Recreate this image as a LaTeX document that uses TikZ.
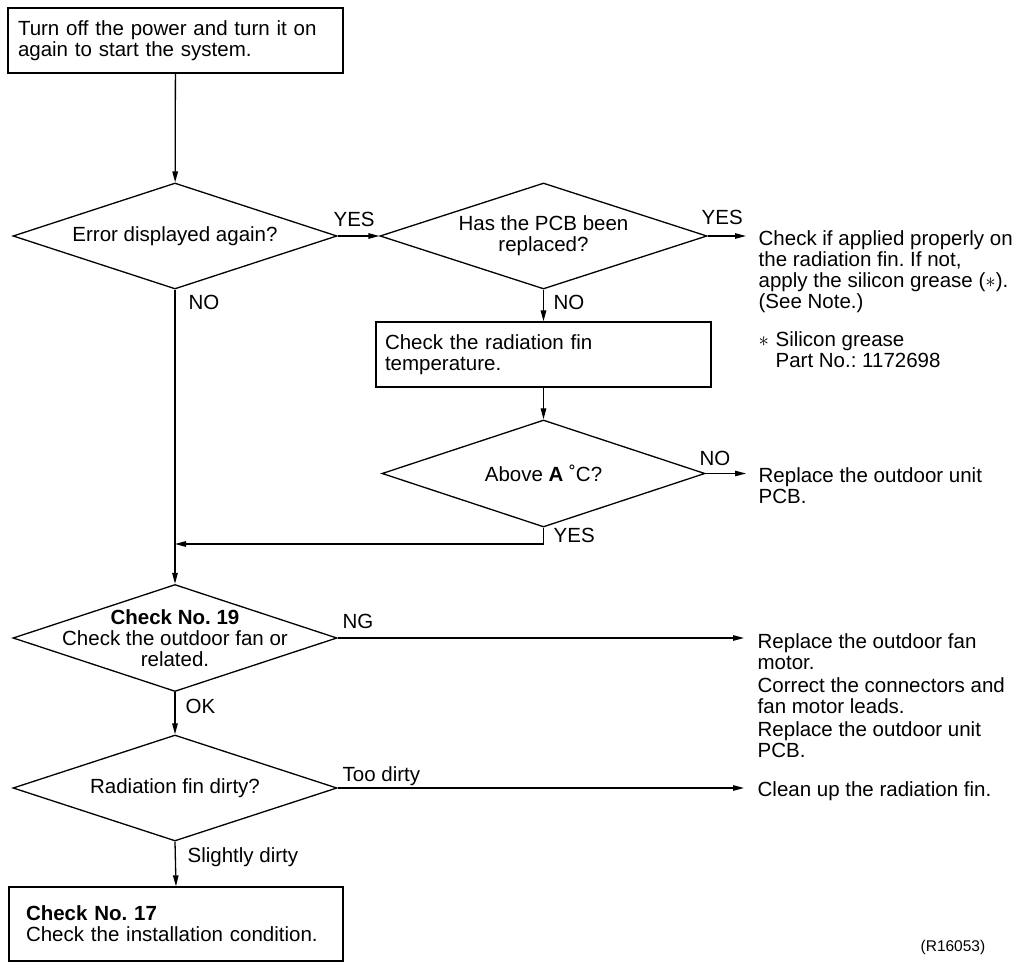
\documentclass[tikz,border=0pt]{standalone}
\usepackage{fontspec}
\setmainfont{Liberation Sans}
\usetikzlibrary{shapes.geometric,arrows.meta}
\frenchspacing
\begin{document}
\begin{tikzpicture}[x=1pt,y=-1pt,
  every node/.style={font=\fontsize{20.5}{21}\selectfont},
  line width=1.3pt,
  boxnode/.style={draw, rectangle, inner ysep=0pt, align=left},
  decision/.style={draw, diamond, inner sep=0pt, minimum width=324pt, minimum height=106pt},
  dtext/.style={align=center, inner sep=0pt},
  lbl/.style={anchor=base west, inner sep=0pt},
  notetext/.style={anchor=north west, align=left, inner ysep=0pt, inner xsep=12pt},
  arr/.style={-{Triangle[length=11pt,width=5.5pt]}}
]
\useasboundingbox (0,0) rectangle (1021,968);
\fill[white] (0,0) rectangle (1021,968);

% boxes
\node[boxnode, inner xsep=10pt, text width=315pt, minimum height=65pt] (start) at (175.5,40.5)
  {Turn off the power and turn it on\\again to start the system.};
\node[boxnode, inner xsep=9pt, text width=317pt, minimum height=65pt] (fin) at (543.5,354.5)
  {Check the radiation fin\\temperature.};
\node[boxnode, inner xsep=17pt, text width=300pt, minimum height=74pt] (c17) at (176,924)
  {\textbf{Check No. 17}\\Check the installation condition.};

% decisions
\node[decision, label={[dtext]center:Error displayed again?}] (d1) at (175,236) {};
\node[decision, minimum width=327pt, label={[dtext]center:Has the PCB been\\replaced?}] (d2) at (543.5,236) {};
\node[decision, minimum width=323pt, minimum height=107pt, label={[dtext]center:Above \textbf{A} ˚C?}] (d3) at (543.5,473.5) {};
\node[decision, minimum height=107pt, label={[dtext]center:\textbf{Check No. 19}\\Check the outdoor fan or\\related.}] (d4) at (175,638) {};
\node[decision, label={[dtext]center:Radiation fin dirty?}] (d5) at (175,788) {};

% notes
\node[notetext] (n1) at (746,230)
  {Check if applied properly on\\the radiation fin. If not,\\apply the silicon grease (\ensuremath{\ast}).\\(See Note.)};
\node[notetext, inner xsep=0pt] (ns) at (758,331)
  {\makebox[17pt][l]{\ensuremath{\ast}}Silicon grease\\\hspace*{17pt}Part No.: 1172698};
\node[notetext] (n2) at (746,467)
  {Replace the outdoor unit\\PCB.};
\node[notetext, inner xsep=13pt] (n3) at (744,633)
  {Replace the outdoor fan\\motor.\\[2pt]Correct the connectors and\\fan motor leads.\\[2pt]Replace the outdoor unit\\PCB.};
\node[notetext, inner xsep=13pt] (n4) at (744,781)
  {Clean up the radiation fin.};
\node[anchor=base west, inner sep=0pt, font=\fontsize{15.5}{16}\selectfont] (ref) at (920,951) {(R16053)};

\coordinate (j1) at (175,544);

% connectors
\draw[arr] (start) -- (d1);
\draw[arr] (d1.east) -- (d2.west);
\draw[arr] (d2.east) -- (d2.east -| n1.west);
\draw[arr] (d2.south) -- (fin.north);
\draw[arr] (fin.south) -- (d3.north);
\draw[arr] (d3.east) -- (d3.east -| n2.west);
\draw[arr] (d3.south) |- (j1);
\draw[arr] (d1.south) -- (d4.north);
\draw[arr] (d4.east) -- (d4.east -| n3.west);
\draw[arr] (d4.south) -- (d5.north);
\draw[arr] (d5.east) -- (d5.east -| n4.west);
\draw[arr] (d5.south) -- (c17.north);

% labels
\node[lbl] (l1) at (333,227) {YES};
\node[lbl] (l2) at (188,310) {NO};
\node[lbl] (l3) at (701,225) {YES};
\node[lbl] (l4) at (553,310) {NO};
\node[lbl] (l5) at (699,465) {NO};
\node[lbl] (l6) at (553,542) {YES};
\node[lbl] (l7) at (342,628) {NG};
\node[lbl] (l8) at (185,713) {OK};
\node[lbl] (l9) at (342,781) {Too dirty};
\node[lbl] (l10) at (187,862) {Slightly dirty};
\end{tikzpicture}
\end{document}
